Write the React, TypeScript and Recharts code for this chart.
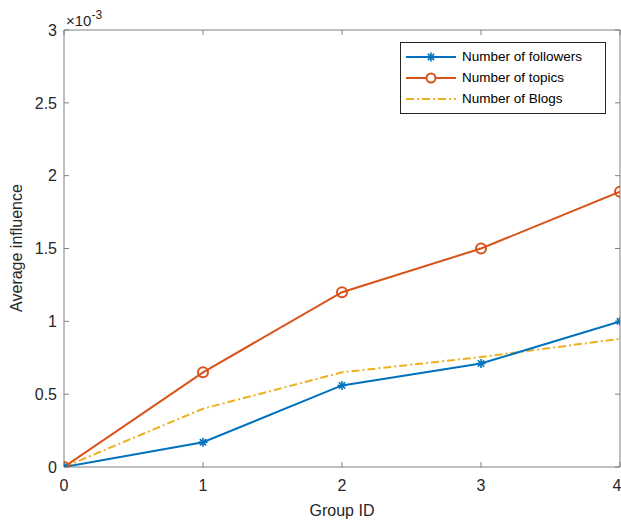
import React from 'react';
import { LineChart, Line, XAxis, YAxis } from 'recharts';

const groupIds = [0, 1, 2, 3, 4];
const followers = [0, 0.00017, 0.00056, 0.00071, 0.001];
const topics = [0, 0.00065, 0.0012, 0.0015, 0.00189];
const blogs = [0, 0.0004, 0.00065, 0.000755, 0.00088];
const yTicks = [0, 0.0005, 0.001, 0.0015, 0.002, 0.0025, 0.003];
const xTicks = [0, 1, 2, 3, 4];

const seriesNames = ['Number of followers', 'Number of topics', 'Number of Blogs'];
const BLUE = '#0072BD';
const ORANGE = '#D95319';
const YELLOW = '#EDB120';
const AXIS = '#808080';
const TEXT = '#262626';
const FONT = '"Liberation Sans", Arial, Helvetica, sans-serif';

const chartData = groupIds.map((g, i) => ({
  group: g,
  followers: followers[i],
  topics: topics[i],
  blogs: blogs[i],
}));

const fmtY = (v: number) => `${+(v * 1000).toFixed(2)}`;

const Asterisk = (props: any) => {
  const { cx, cy } = props;
  if (cx == null || cy == null) return null;
  const r = 4.5;
  const d = r * 0.7;
  return (
    <g stroke={BLUE} strokeWidth={1.6}>
      <line x1={cx - r} y1={cy} x2={cx + r} y2={cy} />
      <line x1={cx} y1={cy - r} x2={cx} y2={cy + r} />
      <line x1={cx - d} y1={cy - d} x2={cx + d} y2={cy + d} />
      <line x1={cx - d} y1={cy + d} x2={cx + d} y2={cy - d} />
    </g>
  );
};

// legend drawn over the plot, like MATLAB's 'northeast' box
const LegendBox = () => (
  <div
    style={{
      position: 'absolute',
      left: 400,
      top: 42,
      border: '1px solid #262626',
      background: '#fff',
      width: 204,
      padding: '3px 0 4px 0',
      fontFamily: FONT,
      fontSize: 13.5,
      color: '#000',
    }}
  >
    {seriesNames.map((name, i) => (
      <div key={name} style={{ display: 'flex', alignItems: 'center', height: 21 }}>
        <svg width={60} height={14} style={{ flex: 'none' }}>
          {i === 0 && (
            <>
              <line x1={5} y1={7} x2={55} y2={7} stroke={BLUE} strokeWidth={2} />
              <Asterisk cx={30} cy={7} />
            </>
          )}
          {i === 1 && (
            <>
              <line x1={5} y1={7} x2={55} y2={7} stroke={ORANGE} strokeWidth={2} />
              <circle cx={30} cy={7} r={4.5} fill="#fff" stroke={ORANGE} strokeWidth={2} />
            </>
          )}
          {i === 2 && (
            <line x1={5} y1={7} x2={55} y2={7} stroke={YELLOW} strokeWidth={2} strokeDasharray="8 3 2 3" />
          )}
        </svg>
        <span style={{ marginLeft: 1 }}>{name}</span>
      </div>
    ))}
  </div>
);

const noTick = () => <g />;

export default function App() {
  return (
    <div style={{ position: 'absolute', left: 0, top: 0, width: 621, height: 523, background: '#fff' }}>
      <LineChart
        width={621}
        height={523}
        data={chartData}
        margin={{ top: 29, right: 0, left: 63, bottom: 55 }}
      >
        <XAxis
          xAxisId="b"
          dataKey="group"
          type="number"
          domain={[0, 4]}
          ticks={xTicks}
          height={1}
          stroke={AXIS}
          tickSize={-5}
          tickMargin={18}
          tick={{ fill: TEXT, fontSize: 16, fontFamily: FONT }}
          allowDataOverflow
        />
        <XAxis
          xAxisId="t"
          orientation="top"
          dataKey="group"
          type="number"
          domain={[0, 4]}
          ticks={xTicks}
          height={1}
          stroke={AXIS}
          tickSize={-5}
          tick={noTick}
          allowDataOverflow
        />
        <YAxis
          yAxisId="l"
          type="number"
          domain={[0, 0.003]}
          ticks={yTicks}
          width={1}
          stroke={AXIS}
          tickSize={-5}
          tickMargin={12}
          tickFormatter={fmtY}
          tick={{ fill: TEXT, fontSize: 16, fontFamily: FONT }}
          allowDataOverflow
        />
        <YAxis
          yAxisId="r"
          orientation="right"
          type="number"
          domain={[0, 0.003]}
          ticks={yTicks}
          width={1}
          stroke={AXIS}
          tickSize={-5}
          tick={noTick}
          allowDataOverflow
        />
        <Line
          xAxisId="b"
          yAxisId="l"
          dataKey="blogs"
          name={seriesNames[2]}
          stroke={YELLOW}
          strokeWidth={2}
          strokeDasharray="8 3 2 3"
          dot={false}
          activeDot={false}
          isAnimationActive={false}
        />
        <Line
          xAxisId="b"
          yAxisId="l"
          dataKey="followers"
          name={seriesNames[0]}
          stroke={BLUE}
          strokeWidth={2}
          dot={<Asterisk />}
          activeDot={false}
          isAnimationActive={false}
        />
        <Line
          xAxisId="b"
          yAxisId="l"
          dataKey="topics"
          name={seriesNames[1]}
          stroke={ORANGE}
          strokeWidth={2}
          dot={{ r: 5, fill: 'none', stroke: ORANGE, strokeWidth: 2 }}
          activeDot={false}
          isAnimationActive={false}
        />
        <text x={66} y={26} fontFamily={FONT} fontSize={15} fill={TEXT}>
          ×10
          <tspan dy={-7} fontSize={12}>-3</tspan>
        </text>
        <text
          x={18}
          y={248}
          transform="rotate(-90 18 248)"
          textAnchor="middle"
          dominantBaseline="middle"
          fontFamily={FONT}
          fontSize={16}
          fill={TEXT}
        >
          Average influence
        </text>
        <text x={342} y={516} textAnchor="middle" fontFamily={FONT} fontSize={16} fill={TEXT}>
          Group ID
        </text>
      </LineChart>
      <LegendBox />
    </div>
  );
}
